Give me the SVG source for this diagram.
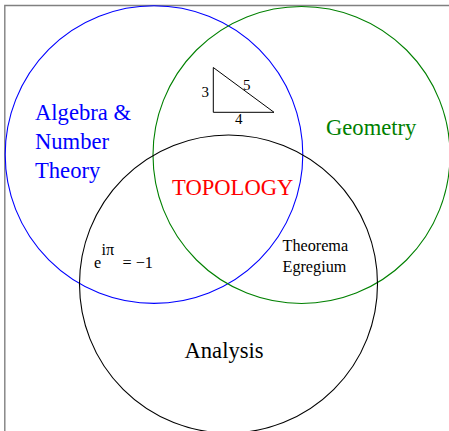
<svg xmlns="http://www.w3.org/2000/svg" width="449" height="431" viewBox="0 0 449 431" font-family="Liberation Serif, Times New Roman, serif">
<style>
text{font-family:"Liberation Serif","Times New Roman",serif}
.c{fill:none;stroke-width:1.1}
.big{font-size:22.6px}
.small{font-size:16.2px}
.num{font-size:15px}
</style>
<rect width="449" height="431" fill="#fff"/>
<path d="M4.8 431 V5.5 H449" fill="none" stroke="#808080" stroke-width="1.4"/>
<g id="algebra">
<circle class="c" cx="154" cy="154.6" r="148.8" stroke="#0000ff"/>
<text class="big" fill="#0000ff" x="35" y="120">Algebra &amp;</text>
<text class="big" fill="#0000ff" x="35" y="149">Number</text>
<text class="big" fill="#0000ff" x="35" y="178">Theory</text>
</g>
<g id="geometry">
<circle class="c" cx="301.5" cy="155" r="148.5" stroke="#008000"/>
<text class="big" fill="#008000" x="326" y="135">Geometry</text>
</g>
<g id="analysis">
<circle class="c" cx="228.5" cy="284" r="149" stroke="#000"/>
<text class="big" fill="#000" x="184.5" y="358">Analysis</text>
</g>
<g id="topology">
<text class="big" fill="#ff0000" x="172" y="195">TOPOLOGY</text>
</g>
<g id="triangle">
<path d="M213.3 67.5 V112.3 H274 Z" fill="none" stroke="#000" stroke-width="1"/>
<text class="num" x="201.5" y="97">3</text>
<text class="num" x="243" y="90">5</text>
<text class="num" x="235" y="124">4</text>
</g>
<g id="euler">
<text class="small" x="94" y="268">e</text>
<text class="small" x="101.5" y="255">iπ</text>
<text class="small" x="122.5" y="268">= −1</text>
</g>
<g id="theorema">
<text class="small" x="282.5" y="251">Theorema</text>
<text class="small" x="282.5" y="272">Egregium</text>
</g>
<g id="connectors"/>
</svg>
